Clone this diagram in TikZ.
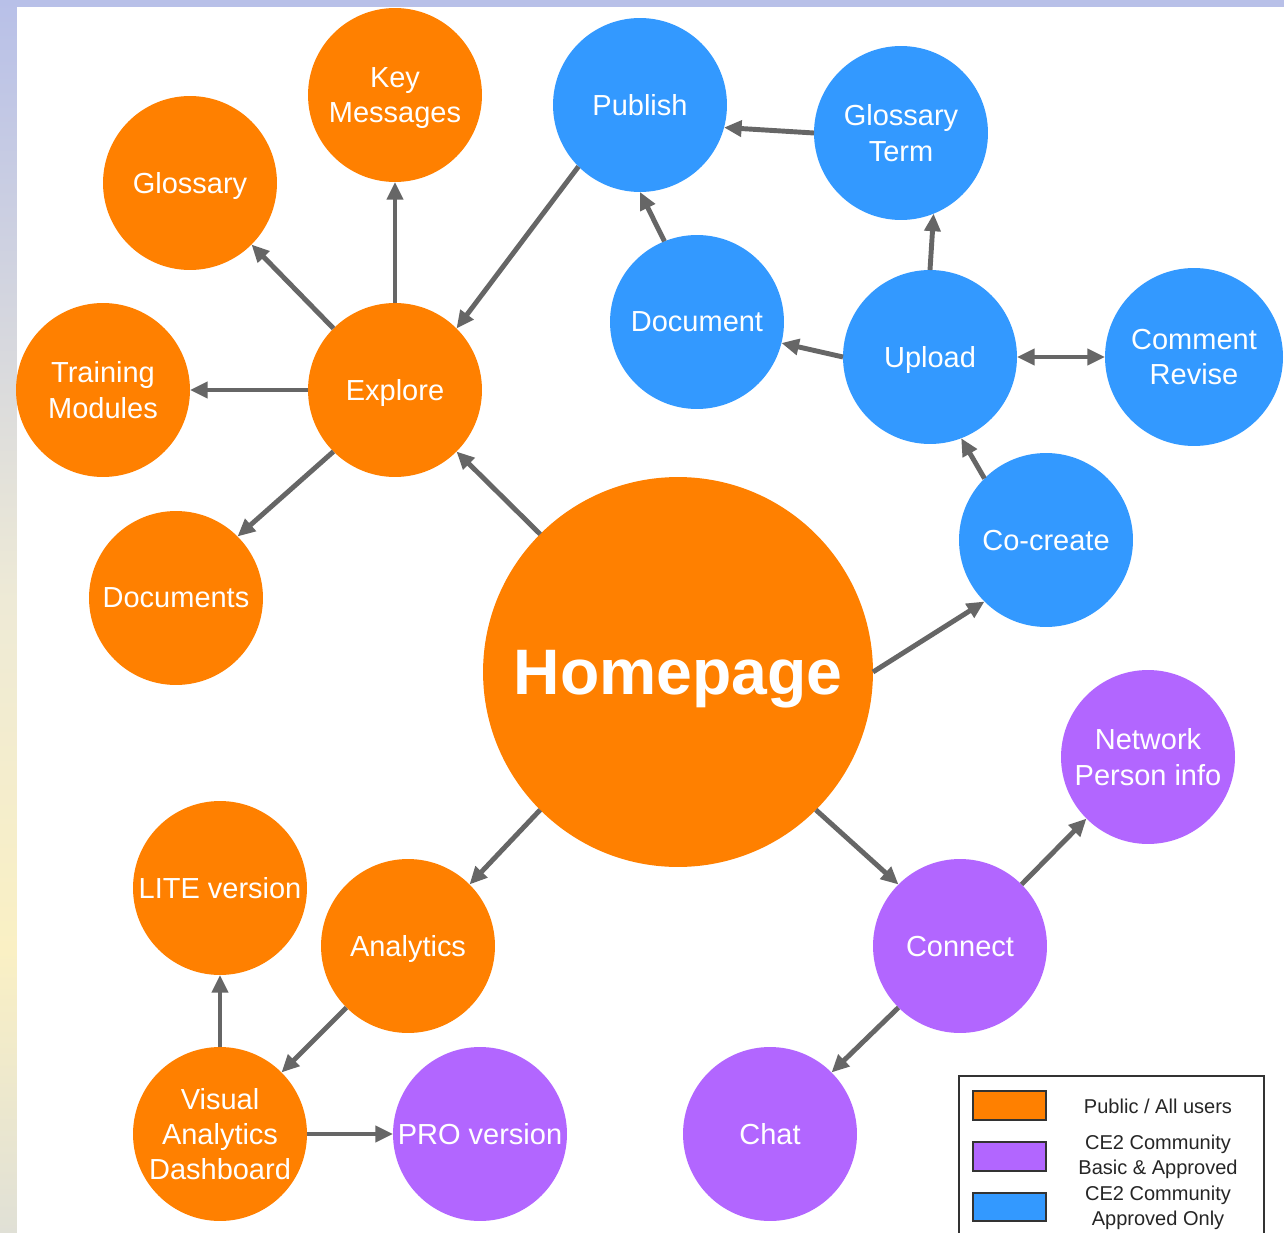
\documentclass[tikz,border=0pt]{standalone}
\usepackage{fontspec}
\setmainfont{Liberation Sans}
\usetikzlibrary{arrows.meta}

\definecolor{pubc}{RGB}{255,128,0}
\definecolor{basc}{RGB}{178,102,255}
\definecolor{aprc}{RGB}{51,153,255}
\definecolor{linkc}{RGB}{102,102,102}
\definecolor{bgtop}{RGB}{184,192,232}
\definecolor{bgmid}{RGB}{238,234,214}
\definecolor{bgyel}{RGB}{250,240,196}
\definecolor{bgbot}{RGB}{224,224,214}

\begin{document}
\begin{tikzpicture}
		[x=0.02cm, y=-0.02cm,
		bubble/.style={circle,inner sep=0pt,outer sep=0pt,minimum size=3.48cm,text depth=-4pt,
			text=white,align=center,font=\fontsize{16.5}{20}\selectfont},
		pub/.style={bubble,fill=pubc},
		bas/.style={bubble,fill=basc},
		apr/.style={bubble,fill=aprc},
		link/.style={draw=linkc,line width=2.8pt,-{Triangle[length=10pt,width=9pt]}},
		swatch/.style={draw=black!80,line width=0.6pt},
		keytext/.style={align=center,text=black!85,font=\fontsize{11.4}{14.2}\selectfont}]
		\useasboundingbox (0,0) rectangle (1284,1233);
		% backdrop
		\shade [top color=bgtop, bottom color=bgmid] (0,0) rectangle (17,600);
		\shade [top color=bgmid, bottom color=bgyel] (0,600) rectangle (17,950);
		\shade [top color=bgyel, bottom color=bgbot] (0,950) rectangle (17,1233);
		\fill [bgtop] (17,0) rectangle (1284,7);
		\fill [white] (17,7) rectangle (1284,1233);
		% public
		\node (home) [pub, minimum size=7.8cm, text depth=-6pt, font=\fontsize{36.6}{40}\selectfont\bfseries] at (678,672) {Homepage};
		\node (explore) [pub] at (395,390) {Explore};
		\node (keymsg) [pub] at (395,95) {Key\\Messages};
		\node (gloss) [pub] at (190,183) {Glossary};
		\node (train) [pub] at (103,390) {Training\\Modules};
		\node (docs) [pub] at (176,598) {Documents};
		\node (analytics) [pub] at (408,946) {Analytics};
		\node (lite) [pub] at (220,888) {LITE version};
		\node (vad) [pub] at (220,1134) {Visual\\Analytics\\Dashboard};
		% basic & approved
		\node (pro) [bas] at (480,1134) {PRO version};
		\node (connect) [bas] at (960,946) {Connect};
		\node (network) [bas] at (1148,757) {Network\\Person info};
		\node (chat) [bas] at (770,1134) {Chat};
		% approved only
		\node (publish) [apr] at (640,105) {Publish};
		\node (gterm) [apr] at (901,133) {Glossary\\Term};
		\node (document) [apr] at (697,322) {Document};
		\node (upload) [apr] at (930,357) {Upload};
		\node (comment) [apr, minimum size=3.56cm] at (1194,357) {Comment\\Revise};
		\node (cocreate) [apr] at (1046,540) {Co-create};
		% links
		\draw [link] (home.135) -- (explore.-45);
		\draw [link] (explore.north) -- (keymsg.south);
		\draw [link] (explore.135) -- (gloss.-45);
		\draw [link] (explore.west) -- (train.east);
		\draw [link] (explore.-135) -- (docs.45);
		\draw [link] (publish.-135) -- (explore.45);
		\draw [link] (gterm.west) -- (publish.-15);
		\draw [link] (document.112) -- (publish.south);
		\draw [link] (upload.west) -- (document.-14);
		\draw [link] (upload.north) -- (gterm.-68);
		\draw [link, {Triangle[length=10pt,width=9pt]}-{Triangle[length=10pt,width=9pt]}] (upload.east) -- (comment.west);
		\draw [link] (cocreate.135) -- (upload.-69);
		\draw [link] (home.east) -- (cocreate.-135);
		\draw [link] (home.-45) -- (connect.135);
		\draw [link] (home.-135) -- (analytics.45);
		\draw [link] (connect.45) -- (network.-135);
		\draw [link] (connect.-135) -- (chat.45);
		\draw [link] (analytics.-135) -- (vad.45);
		\draw [link] (vad.north) -- (lite.south);
		\draw [link] (vad.east) -- (pro.west);
		% legend
		\draw [black!80, line width=0.8pt] (1264,1245) -- (1264,1076) -- (959,1076) -- (959,1245);
		\draw [swatch, fill=pubc] (973,1091) rectangle (1046,1120);
		\draw [swatch, fill=basc] (973,1142) rectangle (1046,1171);
		\draw [swatch, fill=aprc] (973,1193) rectangle (1046,1221);
		\node (keypub) [keytext] at (1158,1106) {Public / All users};
		\node (keybas) [keytext] at (1158,1157) {CE2 Community\\Basic \& Approved};
		\node (keyapr) [keytext] at (1158,1208) {CE2 Community\\Approved Only};
	\end{tikzpicture}
\end{document}
